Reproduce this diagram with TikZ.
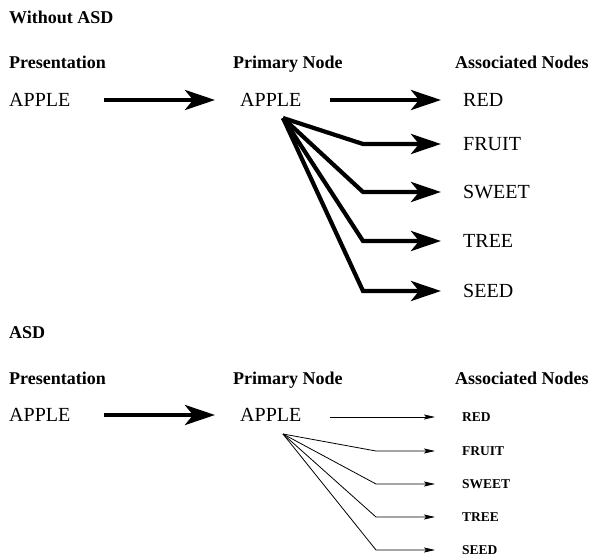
\documentclass[tikz,border=0pt]{standalone}
\usepackage{fontspec}
\setmainfont{Liberation Serif}
\usetikzlibrary{arrows.meta}
\tikzset{
  heading/.style={anchor=base west,inner sep=0pt,font=\bfseries\fontsize{18}{20}\selectfont},
  word/.style={anchor=west,inner sep=0pt,font=\fontsize{20}{22}\selectfont},
  smallword/.style={anchor=west,inner sep=0pt,font=\bfseries\fontsize{13.5}{15}\selectfont},
  heavy/.style={line width=4.2pt,line join=miter,-{Stealth[length=30pt,width=20pt,inset=8pt]}},
  light/.style={line width=0.8pt,-{Stealth[length=11pt,width=5pt,inset=2pt]}}
}
\begin{document}
\begin{tikzpicture}[x=1pt,y=-1pt]
\useasboundingbox (0,0) rectangle (594,559);
% without ASD
\node[heading] (t1) at (9,24) {Without ASD};
\node[heading] (h11) at (9,69) {Presentation};
\node[heading] (h12) at (233,69) {Primary Node};
\node[heading] (h13) at (455,69) {Associated Nodes};
\node[word] (a1) at (9,100) {APPLE};
\node[word] (p1) at (240,100) {APPLE};
\node[word] (red1) at (463,100) {RED};
\node[word] (fruit1) at (463,144) {FRUIT};
\node[word] (sweet1) at (463,192) {SWEET};
\node[word] (tree1) at (463,241) {TREE};
\node[word] (seed1) at (463,291) {SEED};
\draw[heavy,shorten <=33pt,shorten >=25pt] (a1) -- (p1);
\draw[heavy,shorten <=28pt,shorten >=22pt] (p1) -- (red1);
\coordinate (hub1) at (283,118);
\coordinate (b12) at (363,144);
\coordinate (b13) at (363,192);
\coordinate (b14) at (363,241);
\coordinate (b15) at (363,291);
\draw[heavy,shorten >=22pt] (hub1) -- (b12) -- (fruit1);
\draw[heavy,shorten >=22pt] (hub1) -- (b13) -- (sweet1);
\draw[heavy,shorten >=22pt] (hub1) -- (b14) -- (tree1);
\draw[heavy,shorten >=22pt] (hub1) -- (b15) -- (seed1);
% ASD
\node[heading] (t2) at (9,338) {ASD};
\node[heading] (h21) at (9,384) {Presentation};
\node[heading] (h22) at (233,384) {Primary Node};
\node[heading] (h23) at (455,384) {Associated Nodes};
\node[word] (a2) at (9,415) {APPLE};
\node[word] (p2) at (240,415) {APPLE};
\node[smallword] (red2) at (462,417) {RED};
\node[smallword] (fruit2) at (462,451) {FRUIT};
\node[smallword] (sweet2) at (462,484) {SWEET};
\node[smallword] (tree2) at (462,517) {TREE};
\node[smallword] (seed2) at (462,550) {SEED};
\draw[heavy,shorten <=33pt,shorten >=25pt] (a2) -- (p2);
\draw[light,shorten <=28pt,shorten >=27pt] (p2.east |- red2) -- (red2);
\coordinate (hub2) at (283,434);
\coordinate (b22) at (376,451);
\coordinate (b23) at (376,484);
\coordinate (b24) at (376,517);
\coordinate (b25) at (376,550);
\draw[light,shorten >=27pt] (hub2) -- (b22) -- (fruit2);
\draw[light,shorten >=27pt] (hub2) -- (b23) -- (sweet2);
\draw[light,shorten >=27pt] (hub2) -- (b24) -- (tree2);
\draw[light,shorten >=27pt] (hub2) -- (b25) -- (seed2);
\end{tikzpicture}
\end{document}
